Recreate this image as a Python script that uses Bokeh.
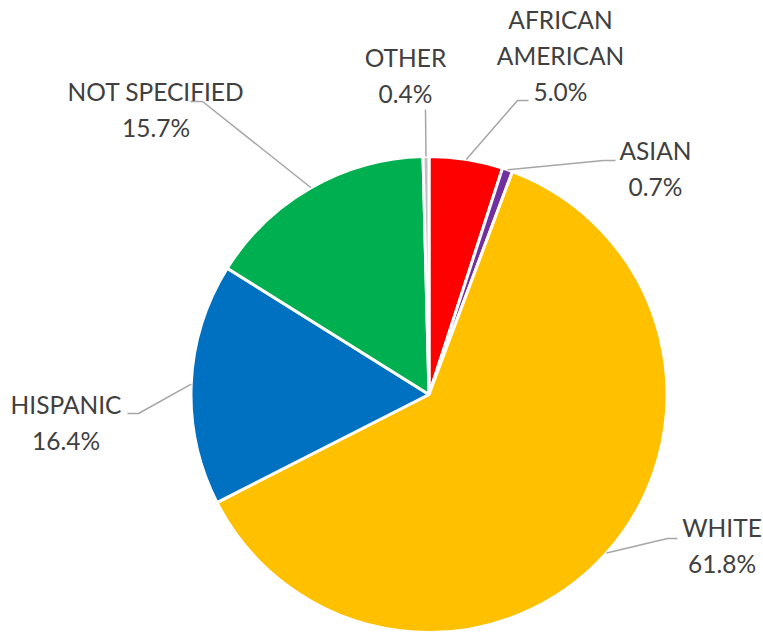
import math
from bokeh.plotting import figure
from bokeh.models import Range1d
from bokeh.core.properties import value
from bokeh.embed import file_html
from bokeh.resources import INLINE

# ---- data ----
categories = ["AFRICAN AMERICAN", "ASIAN", "WHITE", "HISPANIC", "NOT SPECIFIED", "OTHER"]
percent = [5.0, 0.7, 61.8, 16.4, 15.7, 0.4]
colors = ["#FF0000", "#7030A0", "#FFC000", "#0070C0", "#00B050", "#BFBFBF"]
label_lines = [["AFRICAN", "AMERICAN", "5.0%"], ["ASIAN", "0.7%"], ["WHITE", "61.8%"],
               ["HISPANIC", "16.4%"], ["NOT SPECIFIED", "15.7%"], ["OTHER", "0.4%"]]

# ---- layout (screen pixel coordinates) ----
W, H = 763, 633
CX, CY, R = 428.5, 394.0, 238.0
label_pos = [(560, 19), (655, 150), (721.5, 527), (65.5, 403.5), (155.5, 90.5), (405, 56.5)]
LINE_GAP = 36
leaders = [[(517, 100), (528, 100)], [(603, 160), (615, 160)], [(667, 538), (677, 538)],
           [(138, 413), (127, 413)], [(202, 101), (190, 101)], [(425, 109)]]


def sx(x):
    return x


def sy(y):
    return H - y


p = figure(width=W, height=H, output_backend="svg", toolbar_location=None,
           x_axis_type=None, y_axis_type=None, min_border=0,
           x_range=Range1d(0, W), y_range=Range1d(0, H))
p.outline_line_color = None
p.grid.visible = False
p.background_fill_color = "white"
p.border_fill_color = "white"

total = sum(percent)
cum = 0.0
starts, ends, mids = [], [], []
for v in percent:
    a0 = cum / total
    cum += v
    a1 = cum / total
    starts.append(math.pi / 2 - 2 * math.pi * a1)
    ends.append(math.pi / 2 - 2 * math.pi * a0)
    mids.append(2 * math.pi * (a0 + a1) / 2)

p.wedge(x=[sx(CX)] * len(percent), y=[sy(CY)] * len(percent), radius=R,
        start_angle=starts, end_angle=ends, fill_color=colors,
        line_color="white", line_width=3)

for i, m in enumerate(mids):
    x0 = CX + R * math.sin(m)
    y0 = CY - R * math.cos(m)
    pts = [(x0, y0)] + leaders[i]
    p.line([sx(a) for a, b in pts], [sy(b) for a, b in pts], line_color="#A6A6A6", line_width=1.5)

for i, lines in enumerate(label_lines):
    lx, ly = label_pos[i]
    for j, t in enumerate(lines):
        p.text(x=[sx(lx)], y=[sy(ly + j * LINE_GAP)], text=[t], text_align="center",
               text_baseline="middle", text_font=value("Lato"), text_font_size="24.5px",
               text_color="#404040")

open("out.html", "w").write(file_html(p, INLINE))
